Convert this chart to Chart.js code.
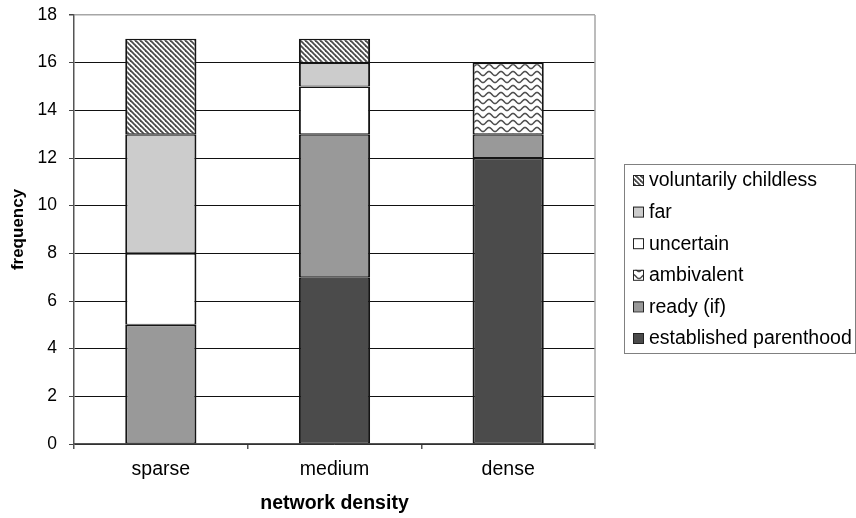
<!DOCTYPE html>
<html>
<head>
<meta charset="utf-8">
<script src="https://cdn.jsdelivr.net/npm/chart.js@4/dist/chart.umd.min.js"></script>
<style>
  html, body { margin: 0; padding: 0; background: #ffffff; }
  #wrap { width: 856px; height: 518px; }
</style>
</head>
<body>
<div id="wrap"><canvas id="chart" width="856" height="518"></canvas></div>
<script>
// Categories along the x axis
const categories = ['sparse', 'medium', 'dense'];

// Frequencies per group, stacked bottom to top
const established = [0, 7, 12];
const readyIf     = [5, 6, 1];
const ambivalent  = [0, 0, 3];
const uncertain   = [3, 2, 0];
const far         = [5, 1, 0];
const childless   = [4, 1, 0];

const seriesNames = ['established parenthood', 'ready (if)', 'ambivalent', 'uncertain', 'far', 'voluntarily childless'];

// Y axis ticks
const yTicks = [0, 2, 4, 6, 8, 10, 12, 14, 16, 18];

const FONT = '"Liberation Sans", Arial, sans-serif';

// Hatched fill: downward diagonal stripes
function stripePattern() {
  const s = 5;
  const c = document.createElement('canvas');
  c.width = s; c.height = s;
  const g = c.getContext('2d');
  g.fillStyle = '#ffffff';
  g.fillRect(0, 0, s, s);
  g.strokeStyle = '#4a4a4a';
  g.lineWidth = 1.8;
  for (const k of [-s, 0, s]) {
    g.beginPath();
    g.moveTo(k - 1, -1);
    g.lineTo(k + s + 1, s + 1);
    g.stroke();
  }
  return g.createPattern(c, 'repeat');
}

// Wavy fill: horizontal wave lines
function wavePattern() {
  const w = 12, h = 7;
  const c = document.createElement('canvas');
  c.width = w; c.height = h;
  const g = c.getContext('2d');
  g.fillStyle = '#ffffff';
  g.fillRect(0, 0, w, h);
  g.strokeStyle = '#4f4f4f';
  g.lineWidth = 1.6;
  g.beginPath();
  for (let x = -1; x <= w + 1; x += 0.5) {
    const y = 3.5 + 2 * Math.sin(2 * Math.PI * x / w);
    if (x === -1) g.moveTo(x, y); else g.lineTo(x, y);
  }
  g.stroke();
  return g.createPattern(c, 'repeat');
}

const fills = ['#4b4b4b', '#999999', wavePattern(), '#ffffff', '#cccccc', stripePattern()];
const series = [established, readyIf, ambivalent, uncertain, far, childless];

const datasets = series.map((vals, i) => ({
  label: seriesNames[i],
  data: vals.map(v => (v === 0 ? null : v)),
  backgroundColor: fills[i],
  borderColor: '#151515',
  borderWidth: { top: 1.5, bottom: 1, left: 2, right: 2 },
  borderSkipped: false,
  inflateAmount: 0,
  categoryPercentage: 1.0,
  barPercentage: 0.41
}));

// Frame on the right edge of the plot and the boxed legend
const framePlugin = {
  id: 'frame',
  afterDatasetsDraw(chart) {
    const { ctx, chartArea: a } = chart;
    ctx.save();
    ctx.strokeStyle = '#a6a6a6';
    ctx.lineWidth = 1.5;
    ctx.beginPath();
    ctx.moveTo(a.right, a.top);
    ctx.lineTo(a.right, a.bottom + 5);
    ctx.stroke();
    ctx.restore();
  },
  afterDraw(chart) {
    const { ctx } = chart;
    const box = { x: 624.5, y: 164.5, w: 231, h: 189 };
    ctx.save();
    ctx.strokeStyle = '#808080';
    ctx.lineWidth = 1;
    ctx.strokeRect(box.x, box.y, box.w, box.h);
    const order = chart.data.datasets.slice().reverse();
    const rowGap = 31.6;
    ctx.font = '19.5px ' + FONT;
    ctx.textBaseline = 'middle';
    ctx.textAlign = 'left';
    order.forEach((ds, i) => {
      const cy = 180 + i * rowGap;
      ctx.fillStyle = ds.backgroundColor;
      ctx.fillRect(633, cy - 5, 10, 10);
      ctx.strokeStyle = '#222222';
      ctx.lineWidth = 1;
      ctx.strokeRect(633.5, cy - 4.5, 10, 10);
      ctx.fillStyle = '#000000';
      ctx.fillText(ds.label, 649, cy + 1);
    });
    ctx.restore();
  }
};

new Chart(document.getElementById('chart'), {
  type: 'bar',
  data: { labels: categories, datasets },
  plugins: [framePlugin],
  options: {
    responsive: false,
    animation: false,
    layout: { padding: { top: 15, right: 261, left: 0, bottom: 0 } },
    plugins: {
      legend: { display: false },
      tooltip: { enabled: false }
    },
    scales: {
      x: {
        stacked: true,
        afterFit: s => { s.height = 74; s.paddingLeft = 0; s.paddingRight = 0; },
        grid: {
          offset: true,
          drawOnChartArea: false,
          drawTicks: true,
          tickLength: 5,
          tickColor: '#555555',
          lineWidth: 1.5
        },
        border: { color: '#555555', width: 1.5 },
        ticks: { color: '#000000', font: { family: FONT, size: 19.5 }, padding: 9 },
        title: {
          display: true,
          text: 'network density',
          color: '#000000',
          font: { family: FONT, size: 19.5, weight: 'bold' },
          padding: { top: 0, bottom: 3 }
        }
      },
      y: {
        stacked: true,
        min: 0,
        max: 18,
        afterFit: s => { s.width = 74; s.paddingTop = 0; s.paddingBottom = 0; },
        afterBuildTicks: s => { s.ticks = yTicks.map(v => ({ value: v })); },
        grid: {
          color: ctx => (ctx.tick && ctx.tick.value === 18 ? '#a6a6a6' : '#111111'),
          lineWidth: ctx => (ctx.tick && ctx.tick.value === 18 ? 1.5 : 1),
          tickColor: '#444444',
          tickLength: 5
        },
        border: { color: '#555555', width: 1.5 },
        ticks: { color: '#000000', font: { family: FONT, size: 17.5 }, padding: 12 },
        title: {
          display: true,
          text: 'frequency',
          color: '#000000',
          font: { family: FONT, size: 17, weight: 'bold' },
          padding: { top: 8, bottom: 0 }
        }
      }
    }
  }
});
</script>
</body>
</html>
